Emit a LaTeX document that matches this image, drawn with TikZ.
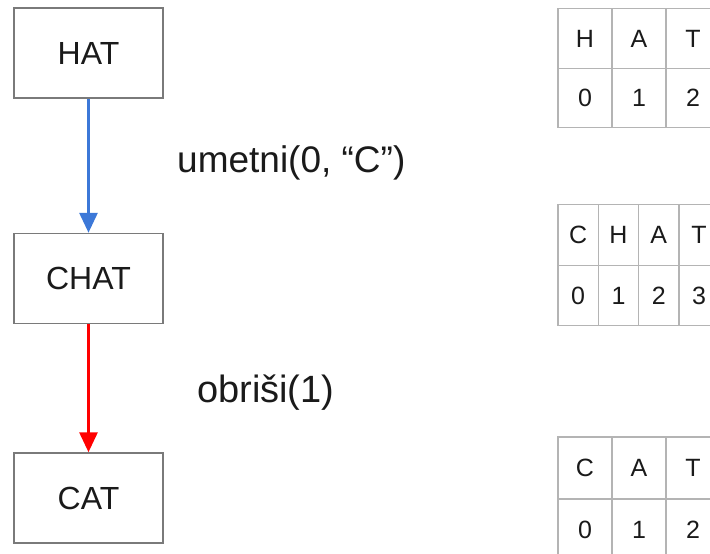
\documentclass[tikz,border=0pt]{standalone}
\usepackage{fontspec}
\setmainfont{Liberation Sans}
\usetikzlibrary{arrows.meta}
\definecolor{boxgray}{HTML}{7A7A7A}
\definecolor{gridgray}{HTML}{B4B4B4}
\definecolor{txt}{HTML}{1A1A1A}
\definecolor{gblue}{HTML}{3C78D8}
\definecolor{gred}{HTML}{FF0000}
\tikzset{
  wordbox/.style={draw=boxgray, line width=1.5pt, minimum width=149pt, minimum height=90pt, inner sep=0pt, text=txt, font=\fontsize{32}{38}\selectfont},
  oplabel/.style={anchor=base west, inner sep=0pt, text=txt, font=\fontsize{37}{44}\selectfont},
  cell/.style={draw=gridgray, line width=1.3pt, inner sep=0pt, text=txt, font=\fontsize{25}{30}\selectfont},
  wide/.style={cell, minimum width=54pt, minimum height=59.5pt},
  narrow/.style={cell, minimum width=40.3pt, minimum height=60.5pt},
  oparrow/.style={line width=3pt, -{Triangle[length=20pt, width=18pt]}},
}
\begin{document}
\begin{tikzpicture}[x=1pt, y=-1pt]
\useasboundingbox (0,0) rectangle (710,554);
\fill[white] (0,0) rectangle (710,554);
% word boxes
\node[wordbox] (hat) at (88.5,53) {HAT};
\node[wordbox] (chat) at (88.5,278.5) {CHAT};
\node[wordbox] (cat) at (88.5,498) {CAT};
% arrows
\draw[oparrow, gblue] (hat.south) -- (chat.north);
\draw[oparrow, gred] (chat.south) -- (cat.north);
% labels
\node[oplabel] (ins) at (177,172) {umetni(0, “C”)};
\node[oplabel, font=\fontsize{38}{45}\selectfont] (del) at (197,402.5) {obriši(1)};
% HAT table
\node[wide] (t1a) at (585,38.5) {H};
\node[wide] (t1b) at (639,38.5) {A};
\node[wide] (t1c) at (693,38.5) {T};
\node[wide] (t1d) at (585,98) {0};
\node[wide] (t1e) at (639,98) {1};
\node[wide] (t1f) at (693,98) {2};
% CHAT table
\node[narrow] (t2a) at (578.15,235) {C};
\node[narrow] (t2b) at (618.45,235) {H};
\node[narrow] (t2c) at (658.75,235) {A};
\node[narrow] (t2d) at (699.05,235) {T};
\node[narrow] (t2e) at (578.15,295.5) {0};
\node[narrow] (t2f) at (618.45,295.5) {1};
\node[narrow] (t2g) at (658.75,295.5) {2};
\node[narrow] (t2h) at (699.05,295.5) {3};
% CAT table
\node[wide, minimum height=62pt] (t3a) at (585,468) {C};
\node[wide, minimum height=62pt] (t3b) at (639,468) {A};
\node[wide, minimum height=62pt] (t3c) at (693,468) {T};
\node[wide, minimum height=62pt] (t3d) at (585,530) {0};
\node[wide, minimum height=62pt] (t3e) at (639,530) {1};
\node[wide, minimum height=62pt] (t3f) at (693,530) {2};
\end{tikzpicture}
\end{document}
